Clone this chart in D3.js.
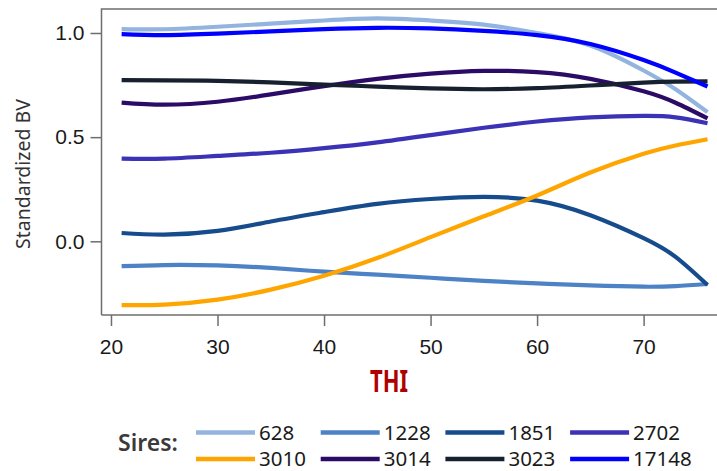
<!DOCTYPE html>
<html>
<head>
<meta charset="utf-8">
<script src="https://cdn.jsdelivr.net/npm/d3@7"></script>
<style>
  body { margin: 0; background: #fff; }
  svg { display: block; font-family: "Noto Sans", "Open Sans", sans-serif; }
</style>
</head>
<body>
<svg id="canvas"></svg>
<script>
const thi = [21, 25, 30, 35, 40, 45, 50, 55, 60, 65, 70, 73, 76];

const sires = ["628", "1228", "1851", "2702", "3010", "3014", "3023", "17148"];
const colors = ["#93b4df", "#4d82c6", "#164b8c", "#3b32b5", "#ffa500", "#2c0b66", "#17202e", "#0000ff"];

const bv628 = [1.019, 1.018, 1.03, 1.045, 1.06, 1.07, 1.06, 1.04, 1.0, 0.94, 0.82, 0.73, 0.62];
const bv1228 = [-0.119, -0.114, -0.116, -0.128, -0.146, -0.16, -0.175, -0.19, -0.202, -0.212, -0.218, -0.215, -0.205];
const bv1851 = [0.04, 0.032, 0.05, 0.095, 0.14, 0.18, 0.203, 0.213, 0.195, 0.125, 0.015, -0.075, -0.21];
const bv2702 = [0.397, 0.397, 0.41, 0.425, 0.447, 0.475, 0.51, 0.545, 0.575, 0.595, 0.602, 0.595, 0.567];
const bv3010 = [-0.306, -0.304, -0.28, -0.232, -0.165, -0.08, 0.02, 0.12, 0.22, 0.33, 0.42, 0.46, 0.49];
const bv3014 = [0.666, 0.656, 0.67, 0.705, 0.745, 0.78, 0.805, 0.818, 0.812, 0.78, 0.72, 0.665, 0.59];
const bv3023 = [0.774, 0.773, 0.77, 0.763, 0.752, 0.743, 0.734, 0.73, 0.735, 0.748, 0.762, 0.767, 0.768];
const bv17148 = [0.995, 0.99, 0.997, 1.008, 1.019, 1.025, 1.022, 1.01, 0.99, 0.947, 0.87, 0.81, 0.743];

const xTicks = [20, 30, 40, 50, 60, 70];
const yTicks = [0.0, 0.5, 1.0];

const series = [bv628, bv1228, bv1851, bv2702, bv3010, bv3014, bv3023, bv17148];

var width = 717,
  height = 471,
  plotLeft = 101.5,
  plotTop = 9,
  plotRight = 717,
  plotBottom = 315;

const canvas = d3.select("#canvas").attr("width", width).attr("height", height);

const xScale = d3.scaleLinear().domain([19.11, 76.89]).range([plotLeft, plotRight]);
const yScale = d3.scaleLinear().domain([-0.3538, 1.1152]).range([plotBottom, plotTop]);

const axisColor = "#6e6e6e";

// frame: top border + axes
canvas
  .append("path")
  .attr("d", `M${plotLeft},${plotBottom}V${plotTop}H${plotRight + 5}`)
  .attr("fill", "none")
  .attr("stroke", axisColor)
  .attr("stroke-width", 1.5);
canvas
  .append("line")
  .attr("x1", plotLeft)
  .attr("x2", plotRight + 5)
  .attr("y1", plotBottom)
  .attr("y2", plotBottom)
  .attr("stroke", axisColor)
  .attr("stroke-width", 1.5);

const xAxis = d3.axisBottom(xScale).tickValues(xTicks).tickSize(11).tickPadding(13).tickFormat(d3.format("d"));
const yAxis = d3.axisLeft(yScale).tickValues(yTicks).tickSize(11).tickPadding(6).tickFormat(d3.format(".1f"));

const gx = canvas.append("g").attr("transform", `translate(0, ${plotBottom})`).call(xAxis);
const gy = canvas.append("g").attr("transform", `translate(${plotLeft}, 0)`).call(yAxis);

[gx, gy].forEach((g) => {
  g.select(".domain").remove();
  g.selectAll(".tick line").attr("stroke", axisColor).attr("stroke-width", 1.5);
  g.selectAll(".tick text").attr("fill", "#1a1a1a").style("font-size", "21px");
});

// curves
const line = d3
  .line()
  .x((d, i) => xScale(thi[i]))
  .y((d) => yScale(d))
  .curve(d3.curveNatural);

canvas
  .append("g")
  .selectAll("path")
  .data(series)
  .join("path")
  .attr("d", line)
  .attr("fill", "none")
  .attr("stroke", (d, i) => colors[i])
  .attr("stroke-width", 4.2)
  .attr("stroke-linejoin", "round");

// axis titles
canvas
  .append("text")
  .attr("transform", `translate(30, 174) rotate(-90)`)
  .attr("text-anchor", "middle")
  .attr("fill", "#333")
  .style("font-size", "19.5px")
  .text("Standardized BV");

canvas
  .append("text")
  .attr("x", 370)
  .attr("y", 392)
  .attr("fill", "#b00000")
  .attr("textLength", 38)
  .attr("lengthAdjust", "spacingAndGlyphs")
  .style("font-size", "30px")
  .style("font-weight", "bold")
  .text("THI");

// legend
canvas
  .append("text")
  .attr("x", 118)
  .attr("y", 451)
  .attr("fill", "#3a3a3a")
  .style("font-size", "23px")
  .style("font-weight", "600")
  .text("Sires:");

const legend = canvas
  .append("g")
  .selectAll("g")
  .data(sires)
  .join("g")
  .attr("transform", (d, i) => `translate(${196 + (i % 4) * 124.7}, ${432.5 + Math.floor(i / 4) * 26.5})`);

legend
  .append("line")
  .attr("x1", 0)
  .attr("x2", 59)
  .attr("stroke", (d, i) => colors[i])
  .attr("stroke-width", 4.5);

legend
  .append("text")
  .attr("x", 63)
  .attr("dy", "0.35em")
  .attr("fill", "#1a1a1a")
  .style("font-size", "20.5px")
  .text((d) => d);
</script>
</body>
</html>
